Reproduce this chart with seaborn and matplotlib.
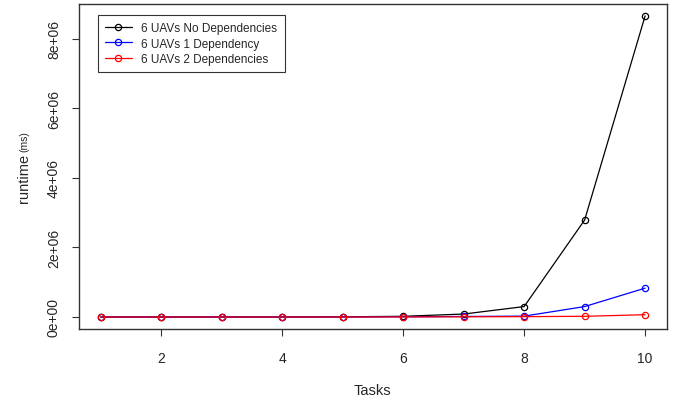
import seaborn as sns
import matplotlib.pyplot as plt
import pandas as pd

# (runtime in ms)
tasks = [1, 2, 3, 4, 5, 6, 7, 8, 9, 10]
no_dep = [5, 40, 250, 1200, 6000, 20000, 85000, 300000, 2790000, 8660000]
one_dep = [3, 20, 100, 500, 2000, 6000, 15000, 25000, 300000, 830000]
two_dep = [2, 10, 50, 200, 700, 2000, 5000, 10000, 20000, 66000]
labels = ["6 UAVs No Dependencies", "6 UAVs 1 Dependency", "6 UAVs 2 Dependencies"]
colors = ["black", "blue", "red"]

sns.set_style("ticks")
plt.rcParams['font.family'] = ['Liberation Sans', 'DejaVu Sans']

fig = plt.figure(figsize=(6.75, 4.02), dpi=100)
ax = fig.add_axes([0.117, 0.179, 0.871, 0.809])

for vals, lab, col in zip([no_dep, one_dep, two_dep], labels, colors):
    df = pd.DataFrame({"Tasks": tasks, "runtime": vals})
    sns.lineplot(data=df, x="Tasks", y="runtime", ax=ax, color=col, label=lab,
                 marker="o", markersize=4.5, mfc="none", mec=col, mew=0.9,
                 linewidth=0.9)

ax.set_xlim(0.64, 10.36)
ax.set_ylim(-0.3464e6, 9.0064e6)
ax.set_xticks([2, 4, 6, 8, 10])
ax.set_yticks([0, 2e6, 4e6, 6e6, 8e6])
ax.set_yticklabels(["0e+00", "2e+06", "4e+06", "6e+06", "8e+06"], rotation=90, va="center")
ax.tick_params(axis="both", labelsize=10, length=5, width=0.8, color="#333333", pad=8)
ax.tick_params(axis="x", pad=11)
for s in ax.spines.values():
    s.set_visible(True)
    s.set_color("#333333")
    s.set_linewidth(1.0)

ax.set_xlabel("Tasks", fontsize=10.5, labelpad=13)
ax.set_ylabel("")
fig.text(0.035, 0.555, "runtime", rotation=90, fontsize=10.5, ha="center", va="center")
fig.text(0.036, 0.648, "(ms)", rotation=90, fontsize=7.5, ha="center", va="center")

leg = ax.legend(loc="upper left", bbox_to_anchor=(0.032, 0.966), fontsize=8.5,
                frameon=True, fancybox=False, edgecolor="black", handlelength=2.3,
                borderpad=0.6, labelspacing=0.3, handletextpad=0.8, borderaxespad=0)
leg.get_frame().set_linewidth(0.8)

fig.savefig("out.png", dpi=100)
